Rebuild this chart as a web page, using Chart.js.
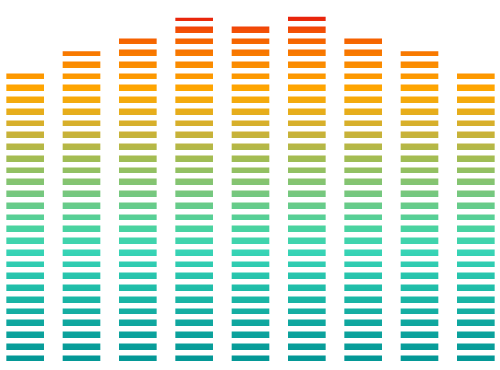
<!DOCTYPE html>
<html>
<head>
<meta charset="utf-8">
<script src="https://cdn.jsdelivr.net/npm/chart.js@4"></script>
<style>
  html, body { margin: 0; padding: 0; background: #fff; overflow: hidden; }
  #wrap { width: 507px; height: 370px; margin-left: -3px; }
</style>
</head>
<body>
<div id="wrap"><canvas id="chart"></canvas></div>
<script>
  // columns of the equalizer
  const categories = ["A", "B", "C", "D", "E", "F", "G", "H", "I"];
  const levels = [25, 26.6, 28, 29.45, 29, 29.55, 28, 26.6, 25];
  // segment grid, one white gap per unit
  const yMax = 31;
  // colour stops from bottom (0) to top (1)
  const stopPos = [0.016, 0.12, 0.22, 0.31, 0.38, 0.48, 0.56, 0.64, 0.71, 0.76, 0.82, 0.89, 0.92, 0.95];
  const stopColors = ["#049896", "#10a8a0", "#22c0aa", "#38d4b6", "#4cd39e", "#7cc67a", "#a0bd55",
    "#cdb135", "#f0ac12", "#ffa500", "#fb8d00", "#f56300", "#f24b06", "#e8230c"];

  let grad = null;
  function barFill(ctx) {
    const area = ctx.chart.chartArea;
    if (!area) return stopColors[0];
    if (!grad) {
      grad = ctx.chart.ctx.createLinearGradient(0, area.bottom, 0, area.top);
      stopPos.forEach((p, i) => grad.addColorStop(p, stopColors[i]));
    }
    return grad;
  }

  new Chart(document.getElementById("chart"), {
    type: "bar",
    data: {
      labels: categories,
      datasets: [{
        data: levels,
        backgroundColor: barFill,
        borderWidth: 0,
        barThickness: 37,
      }],
    },
    options: {
      responsive: true,
      maintainAspectRatio: false,
      animation: false,
      layout: { padding: { top: 0, bottom: 6, left: 0, right: 0 } },
      plugins: { legend: { display: false }, tooltip: { enabled: false } },
      scales: {
        x: { display: false },
        y: {
          min: 0,
          max: yMax,
          border: { display: false },
          ticks: { display: false, stepSize: 1, padding: 0 },
          grid: { color: "#ffffff", lineWidth: 5.4, drawTicks: false, z: 1 },
          afterFit: (s) => { s.width = 0; },
        },
      },
    },
  });
</script>
</body>
</html>
